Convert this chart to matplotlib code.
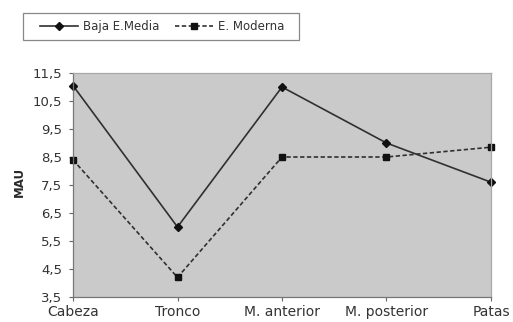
import matplotlib
matplotlib.use("Agg")
import matplotlib.pyplot as plt
from matplotlib.patches import Rectangle
from matplotlib.ticker import FixedLocator

plt.rcParams['font.family'] = ['DejaVu Sans']

categories = ["Cabeza", "Tronco", "M. anterior", "M. posterior", "Patas"]
baja_media = [11.05, 6.0, 11.0, 9.0, 7.6]
e_moderna = [8.4, 4.2, 8.5, 8.5, 8.85]
y_ticks = [3.5, 4.5, 5.5, 6.5, 7.5, 8.5, 9.5, 10.5, 11.5]
y_tick_labels = ["3,5", "4,5", "5,5", "6,5", "7,5", "8,5", "9,5", "10,5", "11,5"]

W, H = 513, 322
TEXT = "#333333"

fig = plt.figure(figsize=(W / 100, H / 100), dpi=100)
fig.patch.set_facecolor("white")
ax = fig.add_axes([73 / W, 1 - 297 / H, (491 - 73) / W, (297 - 73) / H])
ax.set_facecolor("#cacaca")

x = list(range(len(categories)))
l1, = ax.plot(x, baja_media, color="#303030", lw=1.2, marker="D", ms=4,
              mfc="#111111", mec="#111111", label="Baja E.Media", clip_on=False)
l2, = ax.plot(x, e_moderna, color="#303030", lw=1.2, ls=(0, (2.6, 1.5)), marker="s",
              ms=5, mfc="#111111", mec="#111111", label="E. Moderna", clip_on=False)

ax.set_xlim(0, len(categories) - 1)
ax.set_ylim(3.5, 11.5)
ax.set_xticks(x)
ax.set_xticklabels(categories, fontsize=10, color=TEXT)
ax.yaxis.set_major_locator(FixedLocator(y_ticks))
ax.set_yticklabels(y_tick_labels, fontsize=9.5, color=TEXT)
ax.tick_params(axis="both", direction="out", length=3, width=0.8, color="#666666")
ax.tick_params(axis="y", pad=5)
ax.tick_params(axis="x", pad=3)

for side in ("left", "bottom"):
    ax.spines[side].set_color("#777777")
    ax.spines[side].set_linewidth(0.9)
for side in ("top", "right"):
    ax.spines[side].set_color("#a8a8a8")
    ax.spines[side].set_linewidth(0.9)

fig.text(19 / W, 1 - 182 / H, "MAU", rotation=90, ha="center", va="center",
         fontsize=8.5, fontweight="bold", color="#2a2a2a")

# legend frame drawn as a figure-level box, entries placed inside it
fig.patches.append(Rectangle((23 / W, 1 - 40 / H), (299 - 23) / W, (40 - 13) / H,
                             transform=fig.transFigure, facecolor="white",
                             edgecolor="#888888", linewidth=0.9))
leg = fig.legend(handles=[l1, l2], loc="center left",
                 bbox_to_anchor=(40 / W, 1 - 26.5 / H), ncol=2, frameon=False,
                 fontsize=8.5, handlelength=3.2, columnspacing=1.35,
                 handletextpad=0.42, borderpad=0, borderaxespad=0)
for t in leg.get_texts():
    t.set_color(TEXT)

fig.savefig("out.png", dpi=100)
